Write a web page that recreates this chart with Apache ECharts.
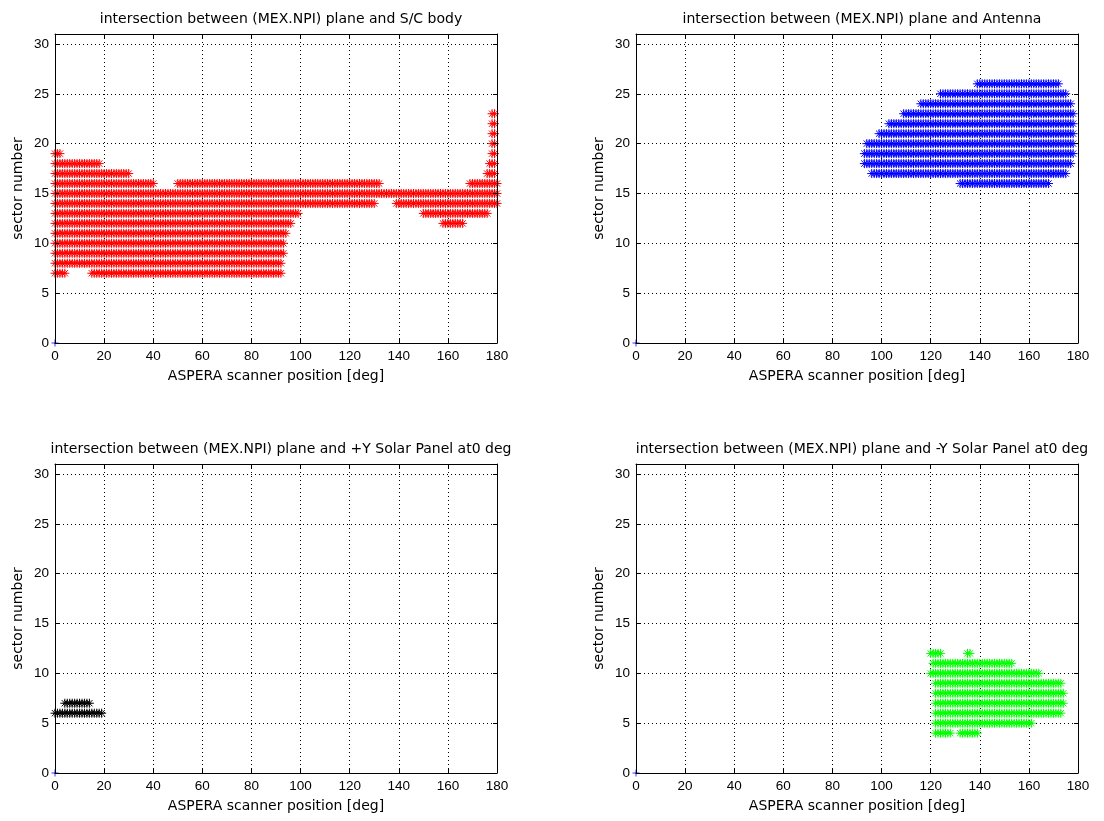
<!DOCTYPE html>
<html>
<head>
<meta charset="utf-8">
<script src="https://cdn.jsdelivr.net/npm/echarts@6/dist/echarts.min.js"></script>
<style>
html,body{margin:0;padding:0;background:#ffffff;}
#chart{width:1104px;height:821px;}
</style>
</head>
<body>
<div id="chart"></div>
<script>
// ---------- data ----------
const xTickValues = [0, 20, 40, 60, 80, 100, 120, 140, 160, 180];
const yTickValues = [0, 5, 10, 15, 20, 25, 30];
const panelTitles = [
  'intersection between (MEX.NPI) plane and S/C body',
  'intersection between (MEX.NPI) plane and Antenna',
  'intersection between (MEX.NPI) plane and +Y Solar Panel at0 deg',
  'intersection between (MEX.NPI) plane and -Y Solar Panel at0 deg'
];
const xAxisName = 'ASPERA scanner position [deg]';
const yAxisName = 'sector number';

// each row: [sector number, first scanner position, last scanner position] (1 deg steps)
const bodyRows = [
  [7, 0, 4], [7, 15, 92],
  [8, 0, 92],
  [9, 0, 93],
  [10, 0, 93],
  [11, 0, 94],
  [12, 0, 96], [12, 158, 166],
  [13, 0, 99], [13, 150, 176],
  [14, 0, 130], [14, 139, 180],
  [15, 0, 180],
  [16, 0, 40], [16, 50, 132], [16, 169, 180],
  [17, 0, 30], [17, 176, 179],
  [18, 0, 18], [18, 177, 179],
  [19, 0, 2], [19, 178, 179],
  [20, 178, 179],
  [21, 178, 179],
  [22, 178, 179],
  [23, 178, 179]
];
const antennaRows = [
  [16, 132, 168],
  [17, 96, 175],
  [18, 93, 177],
  [19, 93, 178],
  [20, 94, 178],
  [21, 99, 178],
  [22, 103, 178],
  [23, 109, 178],
  [24, 116, 177],
  [25, 124, 175],
  [26, 139, 172]
];
const plusYPanelRows = [
  [6, 0, 19],
  [7, 4, 14]
];
const minusYPanelRows = [
  [4, 122, 128], [4, 132, 139],
  [5, 122, 161],
  [6, 122, 173],
  [7, 122, 174],
  [8, 122, 174],
  [9, 122, 173],
  [10, 120, 164],
  [11, 121, 153],
  [12, 120, 124], [12, 135, 136]
];
const originPoint = [[0, 0]];
const panelColors = ['#ff0000', '#0000ff', '#000000', '#00ff00'];

// ---------- build ----------
function rowsToPoints(rows) {
  const pts = [];
  rows.forEach(function (r) {
    for (let x = r[1]; x <= r[2]; x++) pts.push([x, r[0]]);
  });
  return pts;
}
const panelData = [bodyRows, antennaRows, plusYPanelRows, minusYPanelRows].map(rowsToPoints);

const gridBoxes = [
  {left: 55, top: 34, width: 442, height: 309},
  {left: 636, top: 34, width: 442, height: 309},
  {left: 55, top: 464, width: 442, height: 309},
  {left: 636, top: 464, width: 442, height: 309}
];

const asterisk = 'path://M5,0L5,10M0,5L10,5M1.5,1.5L8.5,8.5M1.5,8.5L8.5,1.5';
const plusMark = 'path://M5,0L5,10M0,5L10,5';
const tickFont = {color: '#000', fontFamily: 'Liberation Sans', fontSize: 13.5};
const nameFont = {color: '#000', fontFamily: 'DejaVu Sans', fontSize: 14};

const grid = [], xAxis = [], yAxis = [], series = [], title = [];

gridBoxes.forEach(function (g, i) {
  grid.push({left: g.left, top: g.top, width: g.width, height: g.height, containLabel: false});
  title.push({
    text: panelTitles[i],
    left: g.left + g.width / 2,
    top: g.top - 27,
    textAlign: 'center',
    textStyle: {color: '#000', fontFamily: 'DejaVu Sans', fontSize: 14, fontWeight: 'normal'}
  });
  const xBase = {gridIndex: i, type: 'value', min: xTickValues[0], max: xTickValues[xTickValues.length - 1],
    interval: xTickValues[1] - xTickValues[0]};
  const yBase = {gridIndex: i, type: 'value', min: 0, max: 31, interval: yTickValues[1] - yTickValues[0]};
  // main bottom axis with labels
  xAxis.push(Object.assign({}, xBase, {
    position: 'bottom', z: 10,
    axisLine: {show: true, onZero: false, lineStyle: {color: '#000', width: 1}},
    axisTick: {show: true, inside: true, length: 4, lineStyle: {color: '#000', width: 1}},
    axisLabel: Object.assign({show: true, margin: 6}, tickFont),
    splitLine: {show: false},
    name: xAxisName, nameLocation: 'middle', nameGap: 26, nameTextStyle: nameFont
  }));
  // top frame axis
  xAxis.push(Object.assign({}, xBase, {
    position: 'top', z: 10,
    axisLine: {show: true, onZero: false, lineStyle: {color: '#000', width: 1}},
    axisTick: {show: true, inside: true, length: 4, lineStyle: {color: '#000', width: 1}},
    axisLabel: {show: false}, splitLine: {show: false}
  }));
  // grid lines axis
  xAxis.push(Object.assign({}, xBase, {
    position: 'bottom', z: 0,
    axisLine: {show: false}, axisTick: {show: false}, axisLabel: {show: false},
    splitLine: {show: true, lineStyle: {color: '#000', width: 1, type: [1, 3]}}
  }));
  yAxis.push(Object.assign({}, yBase, {
    position: 'left', z: 10,
    axisLine: {show: true, onZero: false, lineStyle: {color: '#000', width: 1}},
    axisTick: {show: true, inside: true, length: 4, lineStyle: {color: '#000', width: 1}},
    axisLabel: Object.assign({show: true, margin: 6, formatter: function (v) { return yTickValues.indexOf(v) >= 0 ? String(v) : ''; }}, tickFont),
    splitLine: {show: false},
    name: yAxisName, nameLocation: 'middle', nameGap: 30, nameRotate: 90, nameTextStyle: nameFont
  }));
  yAxis.push(Object.assign({}, yBase, {
    position: 'right', z: 10,
    axisLine: {show: true, onZero: false, lineStyle: {color: '#000', width: 1}},
    axisTick: {show: true, inside: true, length: 4, lineStyle: {color: '#000', width: 1},
      customValues: yTickValues},
    axisLabel: {show: false}, splitLine: {show: false}
  }));
  yAxis.push(Object.assign({}, yBase, {
    position: 'left', z: 0,
    axisLine: {show: false}, axisTick: {show: false}, axisLabel: {show: false},
    splitLine: {show: true, lineStyle: {color: '#000', width: 1, type: [1, 3]}}
  }));

  series.push({
    type: 'scatter', xAxisIndex: 3 * i, yAxisIndex: 3 * i,
    data: panelData[i], symbol: asterisk, symbolSize: 9,
    itemStyle: {color: 'rgba(0,0,0,0)', borderColor: panelColors[i], borderWidth: 1, opacity: 1},
    large: false, clip: false, silent: true, animation: false, z: 2, progressive: 0
  });
  series.push({
    type: 'scatter', xAxisIndex: 3 * i, yAxisIndex: 3 * i,
    data: originPoint, symbol: plusMark, symbolSize: 7,
    itemStyle: {color: 'rgba(0,0,0,0)', borderColor: '#0000ff', borderWidth: 1},
    clip: false, silent: true, animation: false, z: 1
  });
});

const chart = echarts.init(document.getElementById('chart'), null, {renderer: 'canvas'});
chart.setOption({
  backgroundColor: '#ffffff',
  animation: false,
  title: title,
  grid: grid,
  xAxis: xAxis,
  yAxis: yAxis,
  series: series
});
</script>
</body>
</html>
